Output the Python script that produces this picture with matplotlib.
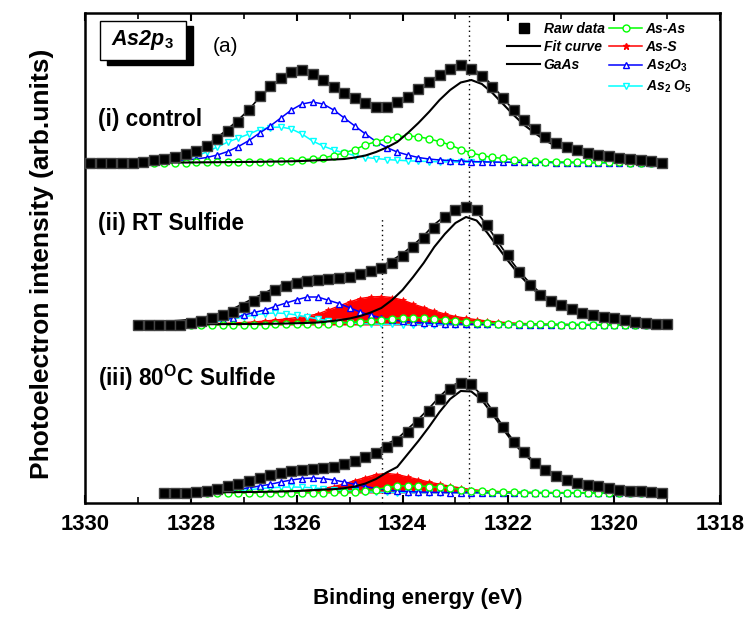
#!/usr/bin/env python3
"""As2p3 XPS spectra: control / RT sulfide / 80C sulfide with peak fits."""

import numpy as np
import matplotlib
matplotlib.use('Agg')
import matplotlib.pyplot as plt
from matplotlib.lines import Line2D
from matplotlib.patches import Rectangle
from matplotlib.ticker import MultipleLocator

plt.rcParams['font.family'] = ['Liberation Sans', 'DejaVu Sans']
plt.rcParams['mathtext.fontset'] = 'custom'
plt.rcParams['mathtext.rm'] = 'Liberation Sans:bold'
plt.rcParams['mathtext.it'] = 'Liberation Sans:italic:bold'
plt.rcParams['mathtext.bf'] = 'Liberation Sans:bold'

# ── data (intensity above each spectrum's own baseline, arb. units) ─────────
E_TOP = np.linspace(1329.9, 1319.1, 55)
E_MID = np.linspace(1329.0, 1319.0, 51)
E_BOT = np.linspace(1328.5, 1319.1, 48)

# (i) control
raw_top = [0.5, 0, 0.5, 0, 0.5, 1.5, 3, 4.5, 6.5, 9,
           12.5, 17, 24, 32, 41, 53, 67, 77, 85, 91,
           93, 89.5, 83, 76, 70, 65, 60, 56, 56, 61,
           66, 74, 81, 88, 94, 98, 94, 87, 76, 65,
           53, 43, 34, 26, 20.5, 16.5, 13, 10.5, 8.5, 7,
           5.5, 4, 3, 2, 0.5]
gaas_top = [0.3, 0.3, 0.3, 0.3, 0.4, 0.4, 0.4, 0.5, 0.5, 0.5,
            0.6, 0.7, 0.8, 0.9, 1.0, 1.1, 1.2, 1.4, 1.5, 1.7,
            2.0, 2.5, 3.0, 3.5, 4.0, 5.5, 7.5, 11, 15.5, 21,
            30, 40, 51, 63, 73, 80.5, 83, 79, 70, 59,
            48, 38, 30, 22.5, 17, 13.5, 11, 9, 7.5, 6,
            4.8, 3.8, 2.8, 1.8, 0.8]
as2o3_top = [0.3, 0.4, 0.5, 0.6, 0.8, 1.0, 1.5, 2.0, 2.5, 3.0,
             4.0, 5.5, 8, 11.5, 16.5, 22.5, 30, 37, 45, 53,
             59, 61, 59, 53, 45, 37, 29, 21.5, 15.5, 11,
             8, 5.5, 4, 3, 2.5, 2, 1.5, 1.2, 1, 0.8,
             0.8, 0.7, 0.6, 0.6, 0.5, 0.5, 0.4, 0.4, 0.3, 0.3,
             0.3, 0.2, 0.2, 0.2, 0.2]
as2o5_top = [0.5, 0.6, 0.7, 0.8, 1, 1.2, 1.5, 2, 3, 4.5,
             7, 11, 16, 21, 25, 29, 33.5, 35.5, 36, 34,
             29, 22, 17, 13, 10, 7.5, 5.5, 4.5, 3.5, 2.8,
             2.2, 1.8, 1.5, 1.2, 1.0, 0.9, 0.8, 0.8, 0.7, 0.7,
             0.6, 0.6, 0.5, 0.5, 0.5, 0.4, 0.4, 0.4, 0.3, 0.3,
             0.3, 0.3, 0.2, 0.2, 0.2]
asas_top = [0.3, 0.3, 0.3, 0.3, 0.3, 0.4, 0.4, 0.4, 0.5, 0.5,
            0.6, 0.6, 0.7, 0.7, 0.8, 0.9, 1.1, 1.3, 1.7, 2.3,
            3.3, 4.2, 5.1, 7.4, 10.2, 13.5, 18.1, 21.4, 24.2, 26.3,
            27, 26.3, 24.2, 21.4, 18.1, 13.5, 10.2, 7.4, 5.6, 4.6,
            3.3, 2.3, 1.7, 1.3, 1.1, 0.9, 0.8, 0.7, 0.7, 0.6,
            0.6, 0.5, 0.5, 0.4, 0.4]

# (ii) RT sulfide
raw_mid = [0, 0, 0, 0, 0.5, 2, 4.3, 6.7, 10, 13.3,
           18.5, 24, 29.5, 35, 38.8, 42, 44, 45, 46, 47,
           48, 51, 54, 57.5, 62.5, 69, 78.5, 87.5, 97.5, 108,
           115.5, 118.5, 115, 100, 86, 70, 53.5, 40.5, 30.5, 24.5,
           20, 15.8, 12.5, 9.6, 8, 7, 4.6, 3, 2, 1, 0.6]
gaas_mid = [0.5, 0.5, 0.5, 0.6, 0.6, 0.7, 0.7, 0.8, 0.9, 1.0,
            1.0, 1.1, 1.2, 1.3, 1.5, 1.8, 2.1, 2.5, 3.6, 4.8,
            6.5, 9, 12.5, 17, 25, 35, 48, 62, 78, 91,
            102, 108, 104.5, 92.4, 78, 63.8, 50.6, 39.6, 29.7, 22.5,
            17.9, 14.3, 11.9, 9, 7, 5.5, 4.3, 3.2, 2.2, 1.2, 0.5]
ass_mid = [0.5, 0.6, 0.7, 0.8, 0.9, 1.0, 1.2, 1.4, 1.7, 2.0,
           2.5, 3, 4, 5, 6, 7.5, 9, 11, 15, 19,
           23, 26.5, 28, 28.5, 27.5, 25, 21, 17.5, 14, 11,
           8.5, 6.8, 5.3, 4, 3, 2.3, 1.7, 1.3, 1.0, 0.8,
           0.7, 0.6, 0.5, 0.5, 0.4, 0.4, 0.4, 0.3, 0.3, 0.3, 0.3]
as2o3_mid = [0.7, 0.9, 1.2, 1.5, 1.9, 2.3, 3.1, 4.0, 5.1, 7.0,
             9.8, 12.6, 15, 18.7, 22, 25.2, 28, 28, 24.7, 21.5,
             17.3, 13, 9.8, 7, 5.1, 3.7, 2.8, 2.1, 1.7, 1.3,
             1.0, 0.8, 0.7, 0.7, 0.6, 0.6, 0.5, 0.5, 0.4, 0.4,
             0.4, 0.3, 0.3, 0.3, 0.3, 0.2, 0.2, 0.2, 0.2, 0.2, 0.2]
as2o5_mid = [0.4, 0.5, 0.6, 0.8, 1, 1.4, 2, 3, 4.2, 6,
             8, 10, 11.5, 12, 11.5, 10, 8, 6, 4.2, 3,
             2, 1.4, 1, 0.8, 0.6, 0.5, 0.4, 0.4, 0.4, 0.3,
             0.3, 0.3, 0.3, 0.3, 0.2, 0.2, 0.2, 0.2, 0.2, 0.2,
             0.2, 0.2, 0.1, 0.1, 0.1, 0.1, 0.1, 0.1, 0.1, 0.1, 0.1]
asas_mid = [0.1, 0.1, 0.1, 0.2, 0.2, 0.2, 0.2, 0.3, 0.3, 0.3,
            0.4, 0.4, 0.5, 0.6, 0.7, 0.8, 1.0, 1.2, 1.5, 1.9,
            2.5, 3.3, 4.3, 5.3, 6.4, 7.2, 7.5, 7.2, 6.4, 5.3,
            4.3, 3.3, 2.5, 1.9, 1.5, 1.2, 1.0, 0.8, 0.7, 0.6,
            0.5, 0.4, 0.4, 0.3, 0.3, 0.3, 0.2, 0.2, 0.2, 0.1, 0.1]

# (iii) 80C sulfide
raw_bot = [0, 0, 0.3, 1, 2.3, 4.5, 7.5, 9.5, 12.3, 15.5,
           18, 20.5, 22, 23.3, 24.3, 25.2, 26.5, 29, 32.5, 36,
           40, 46.5, 52.5, 61, 71.5, 82.5, 94, 104, 110, 109.5,
           96, 81, 66, 51.5, 41, 30.5, 23, 17.5, 13.5, 10.5,
           8.5, 7, 4.7, 3.2, 2.5, 2, 1.5, 0]
gaas_bot = [0.4, 0.4, 0.5, 0.5, 0.6, 0.7, 0.8, 0.9, 1.0, 1.1,
            1.3, 1.5, 1.8, 2.2, 2.8, 3.5, 3.8, 4.8, 6.5, 9.5,
            14, 20.5, 26, 39, 52, 66, 81, 94, 102, 101.5,
            93, 79, 64, 50, 39, 29.5, 22, 16.5, 13, 10,
            8.3, 7, 5.5, 4, 3, 2.3, 1.6, 0.8]
ass_bot = [0.3, 0.3, 0.4, 0.4, 0.5, 0.5, 0.6, 0.7, 0.8, 0.9,
           1.1, 1.4, 1.8, 2.4, 3.2, 4.5, 6.5, 9, 12.5, 15.5,
           18.5, 19.5, 18.5, 16, 13.5, 11, 8.7, 6.8, 5, 3.5,
           2.5, 1.8, 1.3, 1.0, 0.8, 0.6, 0.5, 0.5, 0.4, 0.4,
           0.4, 0.3, 0.3, 0.3, 0.2, 0.2, 0.2, 0.2]
as2o3_bot = [0.5, 0.6, 0.8, 1, 1.3, 1.9, 2.7, 3.8, 5.2, 7,
             8.7, 11, 13, 14.5, 15, 14.5, 13, 11, 8.7, 6.5,
             4.5, 3, 2, 1.4, 1, 0.8, 0.6, 0.5, 0.4, 0.4,
             0.3, 0.3, 0.3, 0.3, 0.3, 0.2, 0.2, 0.2, 0.2, 0.2,
             0.2, 0.2, 0.1, 0.1, 0.1, 0.1, 0.1, 0.1]
as2o5_bot = [0.3, 0.4, 0.5, 0.6, 0.8, 1.2, 1.7, 2.4, 3.3, 4.3,
             5.2, 5.8, 6, 5.8, 5.2, 4.3, 3.3, 2.4, 1.7, 1.2,
             0.8, 0.6, 0.5, 0.4, 0.3, 0.3, 0.3, 0.2, 0.2, 0.2,
             0.2, 0.2, 0.2, 0.1, 0.1, 0.1, 0.1, 0.1, 0.1, 0.1,
             0.1, 0.1, 0.1, 0.1, 0.1, 0.1, 0.1, 0.1]
asas_bot = [0.1, 0.1, 0.1, 0.1, 0.1, 0.2, 0.2, 0.2, 0.2, 0.3,
            0.3, 0.3, 0.3, 0.4, 0.4, 0.5, 0.6, 0.8, 1.2, 2,
            3.5, 5.5, 7, 7.3, 7, 6.5, 5.7, 5, 3.5, 2.5,
            1.7, 1.1, 0.8, 0.6, 0.5, 0.4, 0.4, 0.3, 0.3, 0.3,
            0.2, 0.2, 0.2, 0.2, 0.1, 0.1, 0.1, 0.1]

# vertical stacking offsets of the three spectra
OFFSETS = [340, 178, 10]
PANEL_LABELS = ["(i) control", "(ii) RT Sulfide", r"(iii) 80$^{\mathrm{O}}$C Sulfide"]
GAAS_POS = 1322.75    # dotted reference lines
ASS_POS = 1324.38

C_ASAS, C_ASS, C_O3, C_O5 = "#00ff00", "#ff0000", "#0000ff", "#00ffff"

panels = [
    (E_TOP, raw_top, gaas_top, None, as2o3_top, as2o5_top, asas_top),
    (E_MID, raw_mid, gaas_mid, ass_mid, as2o3_mid, as2o5_mid, asas_mid),
    (E_BOT, raw_bot, gaas_bot, ass_bot, as2o3_bot, as2o5_bot, asas_bot),
]

fig = plt.figure(figsize=(7.48, 6.17), dpi=100)
ax = fig.add_axes([85 / 748, 114 / 617, 635 / 748, 490 / 617])

open_kw = dict(mfc="white", mew=1.0, lw=1.1)
for (e, raw, gaas, ass, o3, o5, asas), off in zip(panels, OFFSETS):
    comps = [np.array(c) for c in (gaas, ass, o3, o5, asas) if c is not None]
    fit = off + np.sum(comps, axis=0)
    if ass is not None:
        ax.fill_between(e, off, off + np.array(ass), color=C_ASS, lw=0, zorder=2)
        ax.plot(e, off + np.array(ass), color=C_ASS, lw=1.0, marker="*", ms=4,
                mew=0.5, zorder=3)
    ax.plot(e, off + np.array(o5), color=C_O5, marker="v", ms=5, zorder=4, **open_kw)
    ax.plot(e, off + np.array(o3), color=C_O3, marker="^", ms=5, zorder=4, **open_kw)
    ax.plot(e, off + np.array(asas), color=C_ASAS, marker="o", ms=5, zorder=5, **open_kw)
    ax.plot(e, off + np.array(gaas), color="k", lw=1.5, zorder=6)
    ax.plot(e, fit, color="k", lw=1.2, zorder=6)
    ax.plot(e, off + np.array(raw), ls="none", marker="s", ms=7.3, color="k",
            mec="#444444", zorder=7)

ax.axvline(GAAS_POS, color="k", ls=(0, (1, 2.5)), lw=1.0, zorder=1)
ax.plot([ASS_POS, ASS_POS], [0, 286], color="k", ls=(0, (1, 2.5)), lw=1.0, zorder=1)

for label, y in zip(PANEL_LABELS, [0.783, 0.571, 0.255]):
    ax.text(0.021, y, label, transform=ax.transAxes, fontsize=16.3,
            fontweight="bold", va="center", ha="left")

# As2p3 box with drop shadow
ax.add_patch(Rectangle((0.0346, 0.8939), 0.1354, 0.0796, transform=ax.transAxes,
                       facecolor="k", edgecolor="k", zorder=8, clip_on=False))
ax.add_patch(Rectangle((0.0236, 0.9041), 0.1354, 0.0796, transform=ax.transAxes,
                       facecolor="white", edgecolor="k", lw=1.0, zorder=9, clip_on=False))
ax.text(0.091, 0.944, r"As2p$_3$", transform=ax.transAxes, fontsize=15.5,
        fontweight="bold", fontstyle="italic", ha="center", va="center", zorder=10)
ax.text(0.222, 0.931, "(a)", transform=ax.transAxes, fontsize=15,
        ha="center", va="center")

ax.set_xlim(1330, 1318)
ax.set_ylim(0, 490)
ax.xaxis.set_major_locator(MultipleLocator(2))
ax.xaxis.set_minor_locator(MultipleLocator(1))
ax.tick_params(axis="x", which="both", direction="in", top=True, pad=8)
ax.tick_params(axis="x", which="major", length=6, width=1.5, labelsize=15.8)
ax.tick_params(axis="x", which="minor", length=4, width=1.2)
ax.set_yticks([])
for lab in ax.get_xticklabels():
    lab.set_fontweight("bold")
for sp in ax.spines.values():
    sp.set_linewidth(1.8)

ax.set_xlabel("Binding energy (eV)", fontsize=16, fontweight="bold", va="center")
ax.xaxis.set_label_coords(0.524, -0.194)
ax.set_ylabel("Photoelectron intensity (arb.units)", fontsize=19, fontweight="bold",
              va="center")
ax.yaxis.set_label_coords(-0.068, 0.488)

handles = [
    Line2D([], [], ls="none", marker="s", ms=7, color="k"),
    Line2D([], [], color="k", lw=1.5),
    Line2D([], [], color="k", lw=1.5),
    Line2D([], [], ls="none"),
    Line2D([], [], color=C_ASAS, marker="o", ms=5, **open_kw),
    Line2D([], [], color=C_ASS, marker="*", ms=5, lw=1.1),
    Line2D([], [], color=C_O3, marker="^", ms=5, **open_kw),
    Line2D([], [], color=C_O5, marker="v", ms=5, **open_kw),
]
labels = ["Raw data", "Fit curve", "GaAs", "", "As-As", "As-S",
          r"As$_2$O$_3$", r"As$_2$ O$_5$"]
ax.legend(handles, labels, ncol=2, loc="upper right", bbox_to_anchor=(0.975, 1.008),
          frameon=False, prop=dict(weight="bold", style="italic", size=10),
          handlelength=2.4, handletextpad=0.25, columnspacing=0.3, labelspacing=0.3)

fig.savefig("out.png", dpi=100)
